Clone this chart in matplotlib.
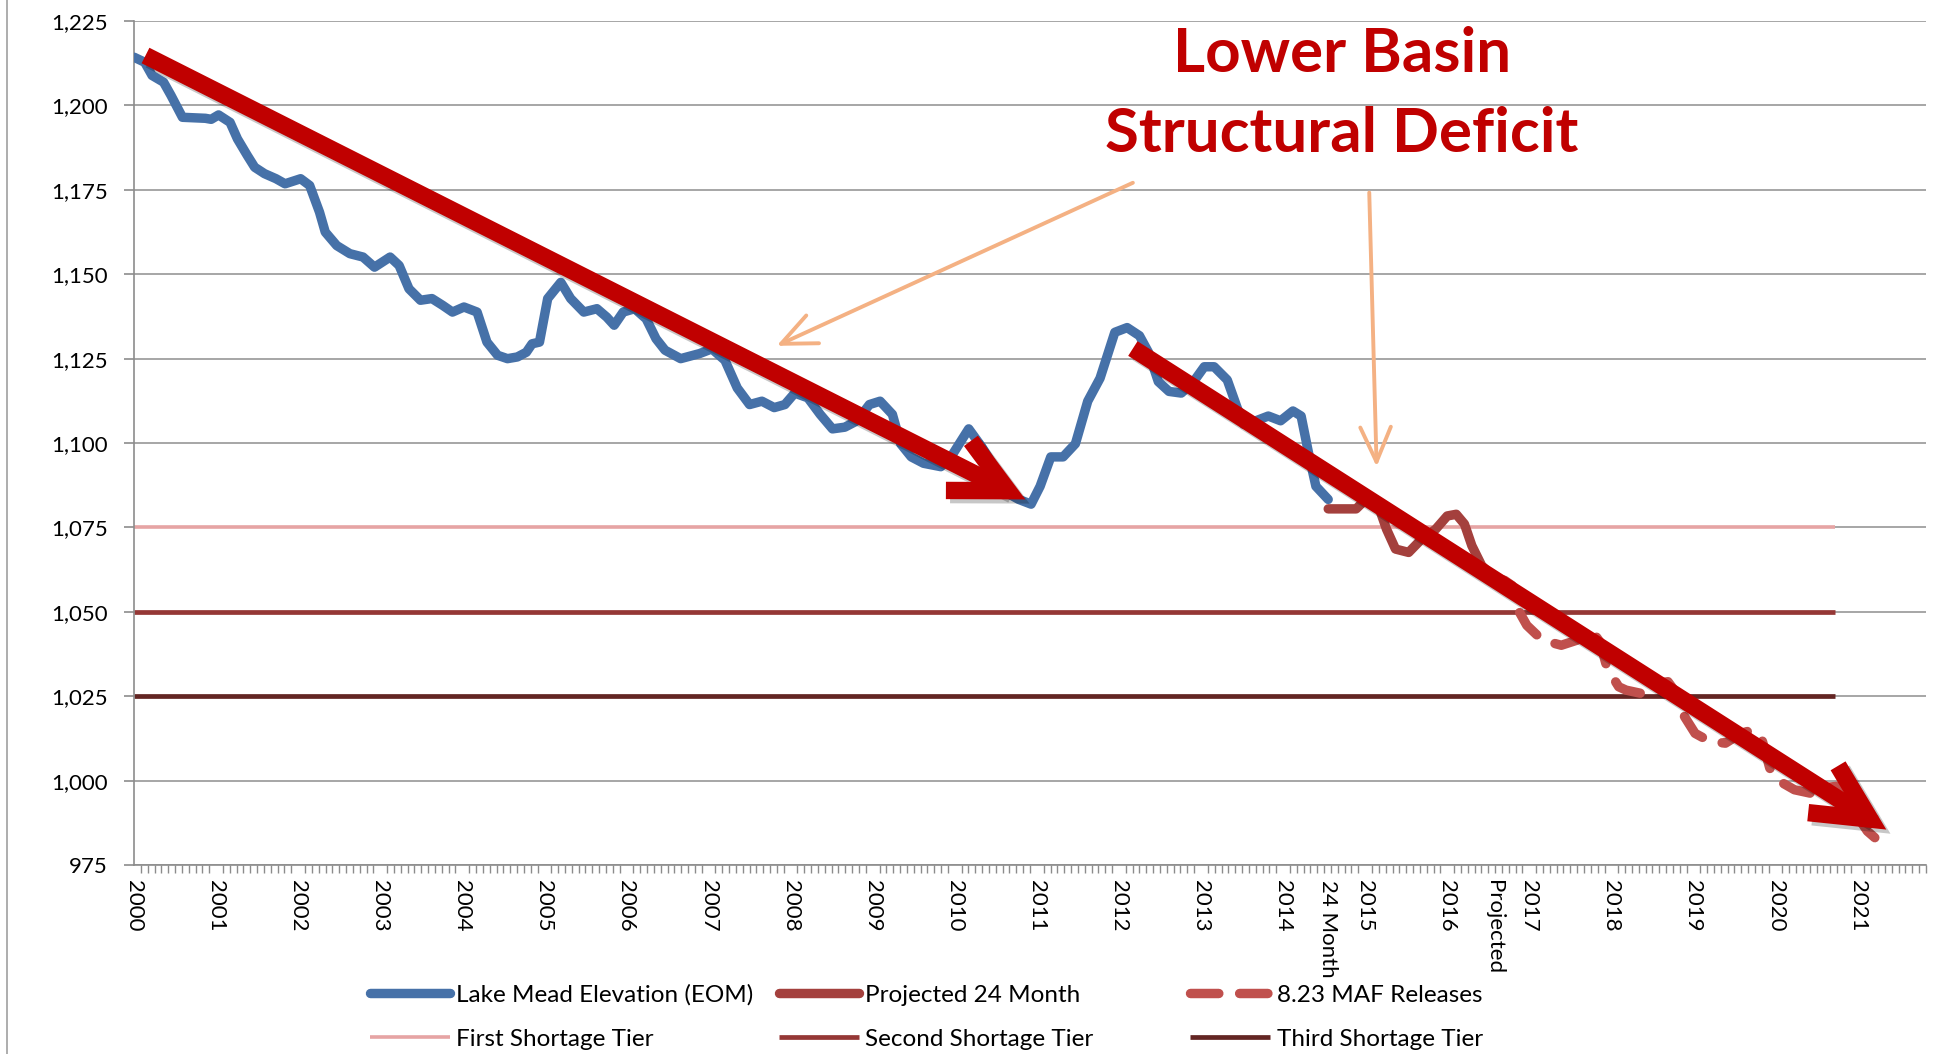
import numpy as np
import matplotlib.pyplot as plt
import matplotlib.patheffects as pe
from matplotlib.lines import Line2D
from matplotlib.ticker import FuncFormatter

plt.rcParams['font.family'] = ['Lato', 'DejaVu Sans']

# Lake Mead end-of-month elevation (ft)
mead_years = [2000.00, 2000.13, 2000.22, 2000.36, 2000.45, 2000.59, 2000.87, 2000.94, 2001.03, 2001.17,
              2001.26, 2001.38, 2001.47, 2001.59, 2001.73, 2001.84, 2002.03, 2002.14, 2002.26, 2002.33,
              2002.47, 2002.63, 2002.79, 2002.93, 2003.12, 2003.23, 2003.35, 2003.49, 2003.63, 2003.76,
              2003.88, 2004.02, 2004.18, 2004.30, 2004.43, 2004.55, 2004.67, 2004.78, 2004.85, 2004.94,
              2005.04, 2005.20, 2005.32, 2005.48, 2005.64, 2005.76, 2005.85, 2005.96, 2006.10, 2006.24,
              2006.36, 2006.47, 2006.66, 2006.89, 2007.04, 2007.20, 2007.35, 2007.50, 2007.65, 2007.80,
              2007.93, 2008.05, 2008.21, 2008.36, 2008.51, 2008.66, 2008.81, 2008.96, 2009.09, 2009.24,
              2009.34, 2009.47, 2009.62, 2009.83, 2009.98, 2010.17, 2010.33, 2010.48, 2010.63, 2010.78,
              2010.93, 2011.04, 2011.17, 2011.32, 2011.47, 2011.62, 2011.77, 2011.95, 2012.10, 2012.25,
              2012.36, 2012.48, 2012.61, 2012.76, 2012.91, 2013.04, 2013.16, 2013.32, 2013.44, 2013.52,
              2013.67, 2013.82, 2013.97, 2014.12, 2014.22, 2014.32, 2014.40, 2014.55]
mead_elev = [1214.3, 1212.8, 1208.9, 1206.9, 1203.0, 1196.5, 1196.2, 1195.9, 1197.2, 1195.0,
             1190.1, 1185.2, 1181.7, 1179.8, 1178.3, 1176.8, 1178.3, 1176.3, 1168.4, 1162.5,
             1158.5, 1156.1, 1155.1, 1152.1, 1155.1, 1152.6, 1145.7, 1142.3, 1142.8, 1140.8,
             1138.8, 1140.3, 1138.8, 1129.9, 1126.0, 1125.0, 1125.5, 1126.9, 1129.4, 1129.9,
             1142.8, 1147.6, 1142.8, 1138.8, 1139.8, 1137.3, 1134.9, 1138.8, 1139.8, 1136.8,
             1130.9, 1127.5, 1125.0, 1126.5, 1127.9, 1124.5, 1116.3, 1111.4, 1112.4, 1110.5,
             1111.4, 1114.8, 1113.4, 1108.5, 1104.2, 1104.7, 1106.6, 1111.4, 1112.4, 1108.5,
             1099.8, 1095.9, 1094.0, 1093.0, 1096.9, 1104.2, 1098.8, 1093.0, 1085.3, 1083.3,
             1081.9, 1087.2, 1095.9, 1095.9, 1099.8, 1112.4, 1119.2, 1132.8, 1134.2, 1131.8,
             1126.9, 1118.2, 1115.3, 1114.8, 1118.2, 1122.6, 1122.6, 1118.7, 1110.5, 1105.6,
             1106.6, 1108.0, 1106.6, 1109.5, 1108.0, 1095.9, 1087.2, 1083.3]

# Projected 24 Month
proj_years = [2014.55, 2014.89, 2015.05, 2015.14, 2015.26, 2015.37, 2015.53, 2015.67,
              2015.86, 2016.00, 2016.11, 2016.21, 2016.30, 2016.42, 2016.56]
proj_elev = [1080.5, 1080.5, 1084.3, 1082.9, 1074.5, 1068.6, 1067.6, 1071.1,
             1074.5, 1078.4, 1078.9, 1076.0, 1069.6, 1063.7, 1060.3]

# 8.23 MAF Releases
maf_years = [2016.56, 2016.70, 2016.79, 2016.88, 2016.97, 2017.16, 2017.39, 2017.58, 2017.76,
             2017.86, 2017.95, 2018.09, 2018.18, 2018.37, 2018.55, 2018.69, 2018.78, 2018.88,
             2019.02, 2019.20, 2019.39, 2019.58, 2019.72, 2019.83, 2019.93, 2020.05, 2020.23,
             2020.42, 2020.56, 2020.74, 2020.84, 2020.98, 2021.12, 2021.21]
maf_elev = [1060.3, 1059.3, 1057.8, 1049.9, 1046.0, 1041.6, 1040.1, 1041.6, 1044.5,
            1041.1, 1033.2, 1027.8, 1026.8, 1025.8, 1028.8, 1029.3, 1026.3, 1019.4,
            1014.0, 1011.6, 1011.1, 1014.0, 1015.0, 1012.6, 1003.7, 999.8, 997.3,
            996.3, 997.8, 998.3, 995.8, 990.0, 985.0, 983.1]

# shortage tiers
tier_names = ['First Shortage Tier', 'Second Shortage Tier', 'Third Shortage Tier']
tier_levels = [1075, 1050, 1025]
tier_start = 2000.0
tier_end = 2020.73

# x axis category labels
tick_pos = [2000, 2001, 2002, 2003, 2004, 2005, 2006, 2007, 2008, 2009, 2010, 2011, 2012,
            2013, 2014, 2014.55, 2015, 2016, 2016.57, 2017, 2018, 2019, 2020, 2021]
tick_labels = ['2000', '2001', '2002', '2003', '2004', '2005', '2006', '2007', '2008', '2009',
               '2010', '2011', '2012', '2013', '2014', '24 Month', '2015', '2016', 'Projected',
               '2017', '2018', '2019', '2020', '2021']

# annotation arrows (start, end) in data units
trend_arrows = [((2000.14, 1214.8), (2010.86, 1083.3)),
                ((2012.17, 1128.0), (2021.35, 985.5))]
pointer_arrows = [((2012.17, 1177.1), (2007.83, 1128.8)),
                  ((2015.05, 1174.2), (2015.14, 1093.0))]

fig = plt.figure(figsize=(19.48, 10.54), dpi=100)
ax = fig.add_axes([0.0688, 0.1793, 0.9199, 0.8007])

ax.set_xlim(2000, 2021.83)
ax.set_ylim(975, 1225)
ax.set_yticks(np.arange(975, 1226, 25))
ax.yaxis.set_major_formatter(FuncFormatter(lambda v, p: f'{v:,.0f}'))
ax.grid(axis='y', color='#a6a6a6', lw=1.4, zorder=0)
ax.set_axisbelow(True)

for s in ['top', 'right']:
    ax.spines[s].set_visible(False)
for s in ['left', 'bottom']:
    ax.spines[s].set_color('#8c8c8c')
    ax.spines[s].set_linewidth(1.2)

ax.set_xticks(tick_pos)
ax.set_xticklabels(tick_labels, rotation=-90, ha='center', va='top')
ax.set_xticks(np.arange(2000, 2021.84, 1 / 12), minor=True)
ax.tick_params(axis='x', which='major', length=0, pad=11, labelsize=16, colors='#000000')
ax.tick_params(axis='x', which='minor', length=6, width=1.0, color='#8c8c8c')
ax.tick_params(axis='y', which='major', length=7, width=1.2, color='#8c8c8c', pad=12,
               labelsize=16)

tier_colors = ['#e6a4a4', '#953735', '#632523']
tier_widths = [2.6, 3.4, 3.4]
tier_lines = []
for name, lvl, c, w in zip(tier_names, tier_levels, tier_colors, tier_widths):
    ln, = ax.plot([tier_start, tier_end], [lvl, lvl], color=c, lw=w, label=name, zorder=2,
                  solid_capstyle='butt')
    tier_lines.append(ln)

mead_line, = ax.plot(mead_years, mead_elev, color='#4671a8', lw=6.8, label='Lake Mead Elevation (EOM)',
                     solid_joinstyle='round', solid_capstyle='round', zorder=4)
proj_line, = ax.plot(proj_years, proj_elev, color='#a4403d', lw=6.8, label='Projected 24 Month',
                     solid_joinstyle='round', solid_capstyle='round', zorder=4)
maf_line, = ax.plot(maf_years, maf_elev, color='#c0504d', lw=6.8, label='8.23 MAF Releases',
                    dashes=(3.0, 2.2), dash_capstyle='round', dash_joinstyle='round', zorder=4)

# big red trend arrows with a soft shadow
for start, end in trend_arrows:
    ann = ax.annotate('', xy=end, xytext=start,
                      arrowprops=dict(arrowstyle='->,head_length=4.0,head_width=2.0',
                                      lw=12.5, color='#c00000', shrinkA=0, shrinkB=0,
                                      capstyle='butt', joinstyle='miter'),
                      zorder=6)
    ann.arrow_patch.set_path_effects([pe.SimpleLineShadow(offset=(3, -3), shadow_color='k', alpha=0.22),
                                      pe.Normal()])

# thin orange pointers from the title
for start, end in pointer_arrows:
    ax.annotate('', xy=end, xytext=start,
                arrowprops=dict(arrowstyle='->,head_length=2.5,head_width=1.1',
                                lw=2.8, color='#f4b183', shrinkA=0, shrinkB=0),
                zorder=5)

fig.text(0.689, 0.932, 'Lower Basin', ha='center', va='baseline', fontsize=44.5,
         fontweight='bold', color='#c00000')
fig.text(0.689, 0.856, 'Structural Deficit', ha='center', va='baseline', fontsize=44.5,
         fontweight='bold', color='#c00000')

# legend: three columns, each its own legend so the columns sit where they do in the original
legend_cols = [([mead_line, tier_lines[0]], 0.190),
               ([proj_line, tier_lines[1]], 0.400),
               ([maf_line, tier_lines[2]], 0.611)]
for handles, xpos in legend_cols:
    leg = fig.legend(handles=handles, labels=[h.get_label() for h in handles],
                     loc='center left', bbox_to_anchor=(xpos, 0.035), frameon=False,
                     fontsize=17.5, handlelength=3.3, handletextpad=0.25, labelspacing=0.95,
                     borderpad=0, borderaxespad=0)

# slide border on the far left
fig.add_artist(Line2D([0.0035, 0.0035], [0, 1], transform=fig.transFigure, color='#a0a0a0', lw=1.2))

fig.savefig('out.png', dpi=100)
